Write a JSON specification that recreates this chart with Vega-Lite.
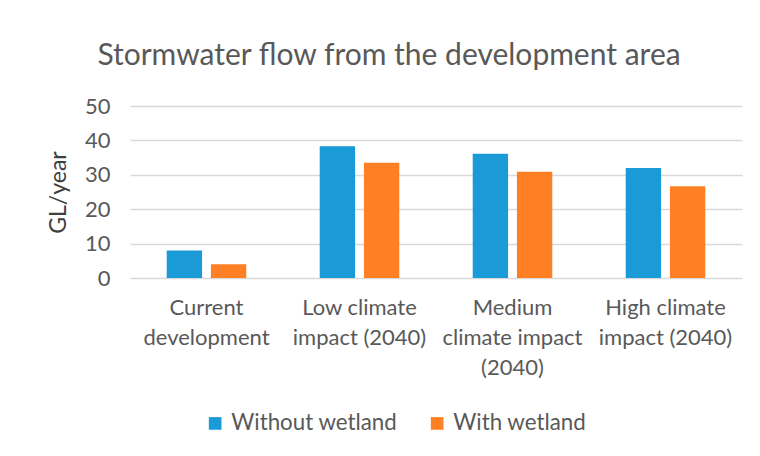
{
  "$schema": "https://vega.github.io/schema/vega-lite/v6.json",
  "width": 612,
  "height": 172,
  "autosize": "none",
  "padding": {"left": 130, "top": 106, "right": 18, "bottom": 178},
  "background": "white",
  "title": {
    "text": "Stormwater flow from the development area",
    "anchor": "middle",
    "dx": -47,
    "offset": 24,
    "font": "Lato",
    "fontSize": 30,
    "fontWeight": "normal",
    "color": "#595959"
  },
  "data": {
    "values": [
      {"scenario": "Current development", "series": "Without wetland", "flow": 8},
      {"scenario": "Current development", "series": "With wetland", "flow": 4},
      {"scenario": "Low climate impact (2040)", "series": "Without wetland", "flow": 38.3},
      {"scenario": "Low climate impact (2040)", "series": "With wetland", "flow": 33.5},
      {"scenario": "Medium climate impact (2040)", "series": "Without wetland", "flow": 36.1},
      {"scenario": "Medium climate impact (2040)", "series": "With wetland", "flow": 30.9},
      {"scenario": "High climate impact (2040)", "series": "Without wetland", "flow": 32},
      {"scenario": "High climate impact (2040)", "series": "With wetland", "flow": 26.7}
    ]
  },
  "mark": {"type": "bar"},
  "encoding": {
    "x": {
      "field": "scenario",
      "type": "nominal",
      "sort": null,
      "scale": {"paddingInner": 0.48, "paddingOuter": 0.24},
      "axis": {
        "title": null,
        "labelAngle": 0,
        "labelFont": "Lato",
        "labelFontSize": 22,
        "labelColor": "#595959",
        "labelPadding": 19,
        "labelLineHeight": 30,
        "labelBaseline": "top",
        "labelLimit": 0,
        "ticks": false,
        "domain": false,
        "labelExpr": "datum.value == 'Current development' ? ['Current', 'development'] : datum.value == 'Low climate impact (2040)' ? ['Low climate', 'impact (2040)'] : datum.value == 'Medium climate impact (2040)' ? ['Medium', 'climate impact', '(2040)'] : ['High climate', 'impact (2040)']"
      }
    },
    "xOffset": {
      "field": "series",
      "type": "nominal",
      "sort": ["Without wetland", "With wetland"],
      "scale": {"paddingInner": 0.2}
    },
    "y": {
      "field": "flow",
      "type": "quantitative",
      "scale": {"domain": [0, 50], "nice": false},
      "axis": {
        "title": "GL/year",
        "titleFont": "Lato",
        "titleFontSize": 23,
        "titleFontWeight": "normal",
        "titleColor": "#404040",
        "titlePadding": 14,
        "values": [0, 10, 20, 30, 40, 50],
        "labelFont": "Lato",
        "labelFontSize": 22,
        "labelColor": "#595959",
        "labelPadding": 20,
        "ticks": false,
        "domain": false,
        "grid": true,
        "gridColor": "#d9d9d9",
        "gridWidth": 1.5
      }
    },
    "color": {
      "field": "series",
      "type": "nominal",
      "sort": ["Without wetland", "With wetland"],
      "scale": {"domain": ["Without wetland", "With wetland"], "range": ["#1a9ad6", "#ff7f24"]},
      "legend": {
        "title": null,
        "orient": "none",
        "direction": "horizontal",
        "legendX": 74,
        "legendY": 306,
        "symbolType": "square",
        "symbolSize": 160,
        "symbolStrokeWidth": 0,
        "labelFont": "Lato",
        "labelFontSize": 22.3,
        "labelColor": "#595959",
        "labelLimit": 0,
        "columnPadding": 28,
        "labelOffset": 5
      }
    }
  },
  "config": {"view": {"stroke": null}}
}
